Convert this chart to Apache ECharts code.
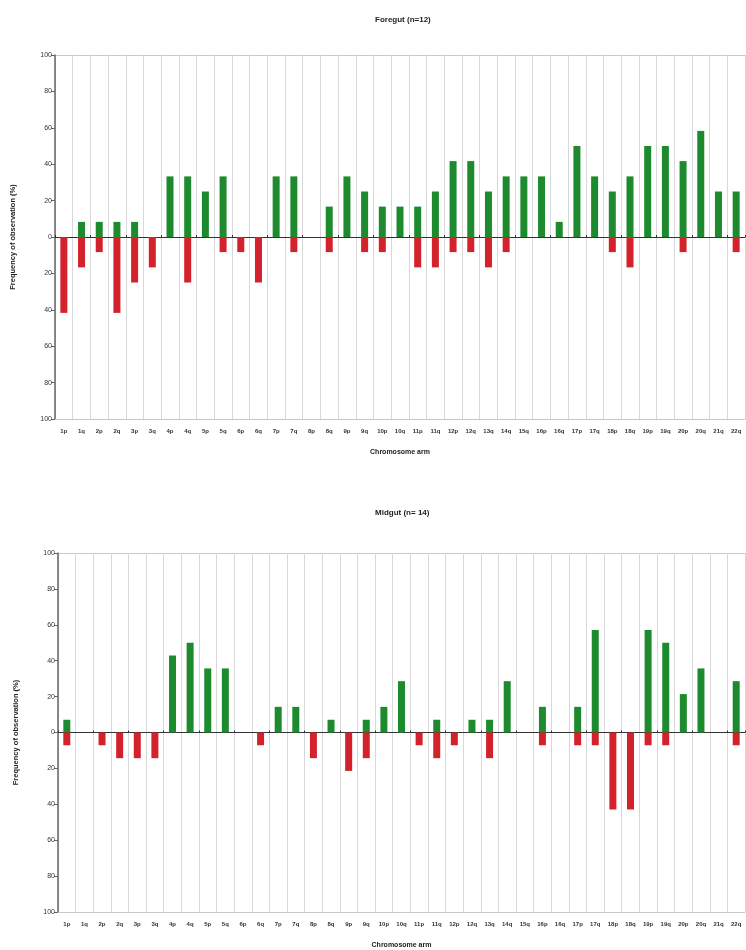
<!DOCTYPE html>
<html>
<head>
<meta charset="utf-8">
<title>Foregut / Midgut</title>
<script src="https://cdn.jsdelivr.net/npm/echarts@6/dist/echarts.min.js"></script>
<style>
  html, body { margin: 0; padding: 0; background: #fff; }
  #chart { width: 746px; height: 950px; }
</style>
</head>
<body>
<div id="chart"></div>
<script>
// chromosome arms on the x axis
const arms = ['1p', '1q', '2p', '2q', '3p', '3q', '4p', '4q', '5p', '5q', '6p', '6q', '7p', '7q',
  '8p', '8q', '9p', '9q', '10p', '10q', '11p', '11q', '12p', '12q', '13q', '14q', '15q', '16p',
  '16q', '17p', '17q', '18p', '18q', '19p', '19q', '20p', '20q', '21q', '22q'];

// Foregut (n=12) - % of cases with gain / loss
const foregutGain = [0, 8.3, 8.3, 8.3, 8.3, 0, 33.3, 33.3, 25, 33.3, 0, 0, 33.3, 33.3,
  0, 16.7, 33.3, 25, 16.7, 16.7, 16.7, 25, 41.7, 41.7, 25, 33.3, 33.3, 33.3,
  8.3, 50, 33.3, 25, 33.3, 50, 50, 41.7, 58.3, 25, 25];
const foregutLoss = [41.7, 16.7, 8.3, 41.7, 25, 16.7, 0, 25, 0, 8.3, 8.3, 25, 0, 8.3,
  0, 8.3, 0, 8.3, 8.3, 0, 16.7, 16.7, 8.3, 8.3, 16.7, 8.3, 0, 0,
  0, 0, 0, 8.3, 16.7, 0, 0, 8.3, 0, 0, 8.3];

// Midgut (n=14)
const midgutGain = [7.1, 0, 0, 0, 0, 0, 42.9, 50, 35.7, 35.7, 0, 0, 14.3, 14.3,
  0, 7.1, 0, 7.1, 14.3, 28.6, 0, 7.1, 0, 7.1, 7.1, 28.6, 0, 14.3,
  0, 14.3, 57.1, 0, 0, 57.1, 50, 21.4, 35.7, 0, 28.6];
const midgutLoss = [7.1, 0, 7.1, 14.3, 14.3, 14.3, 0, 0, 0, 0, 0, 7.1, 0, 0,
  14.3, 0, 21.4, 14.3, 0, 0, 7.1, 14.3, 7.1, 0, 14.3, 0, 0, 7.1,
  0, 7.1, 7.1, 42.9, 42.9, 7.1, 7.1, 0, 0, 0, 7.1];

const titles = ['Foregut (n=12)', 'Midgut (n= 14)'];

const GREEN = '#1e8a2e';
const RED = '#d3222b';
const FONT = 'Liberation Sans, Arial, sans-serif';

const chart = echarts.init(document.getElementById('chart'));

const grids = [
  { left: 55, top: 55, width: 690, height: 364 },
  { left: 58, top: 553, width: 687, height: 360 }
];

// only top and bottom borders, no horizontal grid lines
const borderColors = [];
for (let i = 0; i <= 10; i++) borderColors.push(i === 0 || i === 10 ? '#c8c8c8' : 'rgba(0,0,0,0)');

const xAxes = [];
const yAxes = [];
const series = [];

grids.forEach(function (g, gi) {
  // bottom axis with labels and vertical separators
  xAxes.push({
    type: 'category',
    gridIndex: gi,
    data: arms,
    position: 'bottom',
    axisLine: { onZero: false, lineStyle: { color: '#c8c8c8' } },
    axisTick: { show: false },
    axisLabel: { interval: 0, fontSize: 6, fontWeight: 'bold', color: '#333', margin: 9, fontFamily: FONT },
    splitLine: { show: true, interval: 0, lineStyle: { color: '#d8d8d8', width: 1 } },
    name: 'Chromosome arm',
    nameLocation: 'middle',
    nameGap: 30,
    nameTextStyle: { fontSize: 7, fontWeight: 'bold', color: '#222', fontFamily: FONT }
  });
  // zero line
  xAxes.push({
    type: 'category',
    gridIndex: gi,
    data: arms,
    position: 'top',
    axisLine: { onZero: true, lineStyle: { color: '#333', width: 1 } },
    axisTick: { show: true, length: 2, lineStyle: { color: '#333' } },
    axisLabel: { show: false },
    splitLine: { show: false }
  });
  yAxes.push({
    type: 'value',
    gridIndex: gi,
    min: -100,
    max: 100,
    interval: 20,
    axisLine: { show: true, lineStyle: { color: '#666', width: 1.5 } },
    axisTick: { show: true, length: 4, lineStyle: { color: '#666' } },
    axisLabel: {
      fontSize: 7, color: '#333', margin: 3, fontFamily: FONT,
      formatter: function (v) { return Math.abs(v); }
    },
    splitLine: { show: true, lineStyle: { color: borderColors } },
    name: 'Frequency of observation (%)',
    nameLocation: 'middle',
    nameRotate: 90,
    nameGap: 38,
    nameTextStyle: { fontSize: 7.5, fontWeight: 'bold', color: '#222', fontFamily: FONT }
  });
});

const gains = [foregutGain, midgutGain];
const losses = [foregutLoss, midgutLoss];

gains.forEach(function (gain, gi) {
  series.push({
    name: 'gain',
    type: 'bar',
    xAxisIndex: gi * 2,
    yAxisIndex: gi,
    data: gain,
    barWidth: 7,
    barGap: '-100%',
    itemStyle: { color: GREEN },
    z: 3
  });
  series.push({
    name: 'loss',
    type: 'bar',
    xAxisIndex: gi * 2,
    yAxisIndex: gi,
    data: losses[gi].map(function (v) { return -v; }),
    barWidth: 7,
    barGap: '-100%',
    itemStyle: { color: RED },
    z: 3
  });
});

const option = {
  backgroundColor: '#fff',
  animation: false,
  title: titles.map(function (t, i) {
    return {
      text: t,
      left: 370,
      top: i === 0 ? 11 : 504,
      textStyle: { fontSize: 8, fontWeight: 'bold', color: '#222', fontFamily: FONT }
    };
  }),
  grid: grids,
  xAxis: xAxes,
  yAxis: yAxes,
  series: series
};

chart.setOption(option);
</script>
</body>
</html>
